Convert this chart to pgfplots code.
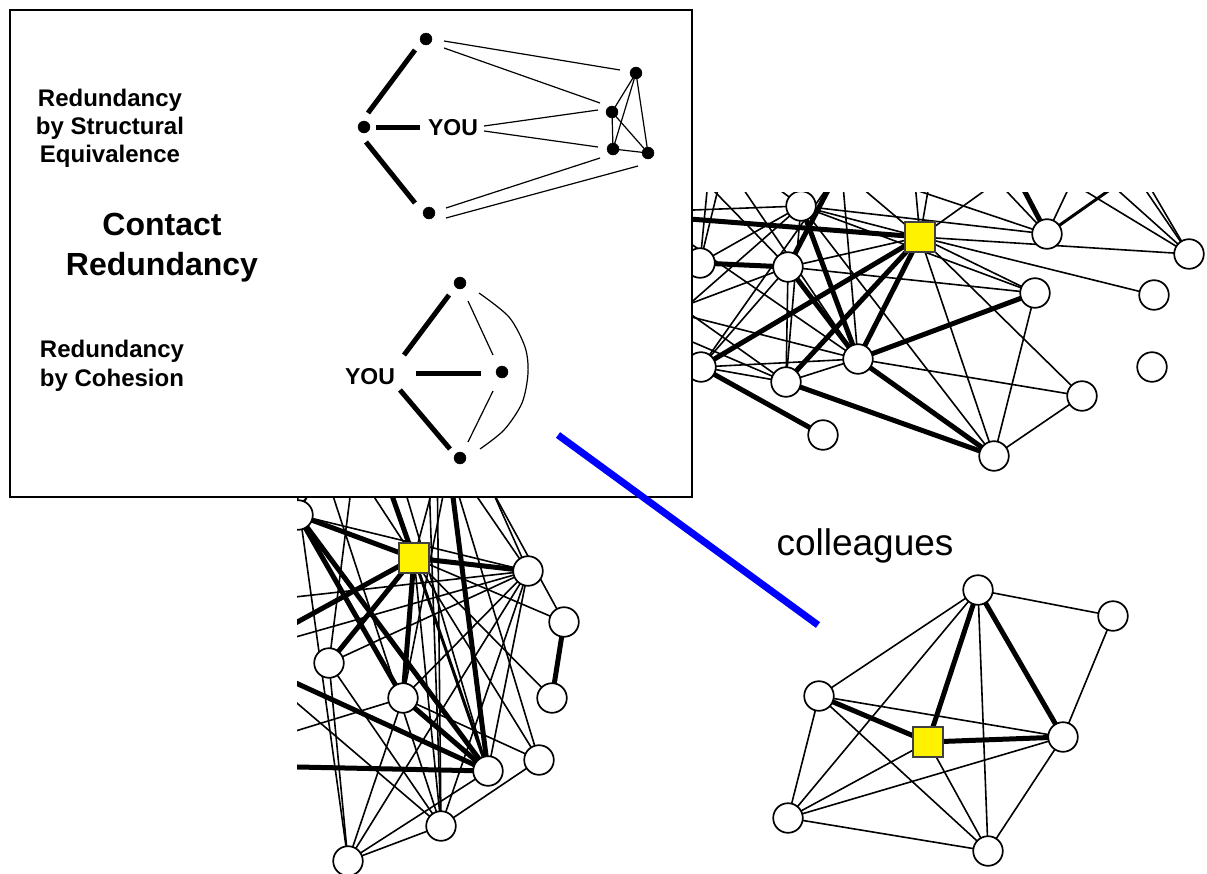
\documentclass[border=0pt]{standalone}
\usepackage{pgfplots}
\pgfplotsset{compat=1.18}
\usepackage{fontspec}
\setmainfont{Liberation Sans}
\newcommand{\E}[3]{\edef\tmpE{\noexpand\addplot[#1] coordinates {(#2) (#3)};}\tmpE}
% top-right network nodes
\def\TRa{801,206}\def\TRy{920,237}\def\TRb{700,263}\def\TRc{788,267}
\def\TRd{701,367}\def\TRe{786,382}\def\TRf{858,359}\def\TRg{823,435}
\def\TRh{1047,234}\def\TRi{1189,254}\def\TRj{1035,293}\def\TRk{1154,295}
\def\TRl{1152,367}\def\TRm{1082,396}\def\TRn{994,456}
% bottom-left network nodes
\def\BLz{298,515}\def\BLy{414,558}\def\BLa{528,571}\def\BLb{564,622}
\def\BLc{552,698}\def\BLd{539,760}\def\BLe{329,663}\def\BLf{403,698}
\def\BLg{488,771}\def\BLh{441,826}\def\BLi{348,861}
% colleagues network nodes
\def\COa{978,590}\def\COb{1113,616}\def\COc{819,696}\def\COy{928,742}
\def\COd{1063,737}\def\COe{788,818}\def\COf{988,851}
\pgfplotsset{
 tn/.style={black, line width=1.6pt},
 tm/.style={black, line width=3pt},
 tk/.style={black, line width=5pt},
 nd/.style={only marks, mark=*, mark size=14.8pt, mark options={fill=white, draw=black, line width=1.7pt}},
 sq/.style={only marks, mark=square*, mark size=15pt, mark options={fill=yellow, draw=black!75, line width=1.2pt}},
 net/.style={hide axis, scale only axis, y dir=reverse, anchor=south west, clip marker paths=true},
}
\begin{document}
\begin{tikzpicture}
\path[use as bounding box] (0,0) rectangle (1207pt,873pt);
% ---------------- top-right network ----------------
\begin{axis}[net, xmin=692, xmax=1207, ymin=193, ymax=490, width=515pt, height=297pt, at={(692pt,383pt)}]
\E{tn}{\TRa}{\TRy}\E{tn}{\TRa}{\TRe}\E{tn}{\TRc}{\TRe}\E{tn}{\TRa}{\TRj}\E{tn}{\TRa}{\TRh}
\E{tn}{640,212}{\TRa}\E{tn}{\TRa}{620,365}\E{tn}{\TRa}{740,160}\E{tn}{\TRb}{\TRa}\E{tn}{\TRa}{\TRn}
\E{tn}{\TRc}{\TRy}\E{tn}{\TRc}{\TRj}\E{tn}{\TRc}{\TRd}\E{tn}{\TRc}{620,330}\E{tn}{\TRc}{645,120}
\E{tn}{\TRd}{\TRe}\E{tn}{\TRd}{\TRf}\E{tn}{\TRd}{854,150}\E{tn}{\TRd}{620,300}
\E{tn}{\TRe}{\TRf}\E{tn}{\TRe}{620,264}\E{tn}{\TRe}{620,311}
\E{tn}{\TRf}{\TRm}\E{tn}{\TRf}{620,195}\E{tn}{\TRf}{620,299}\E{tn}{\TRf}{717,150}\E{tn}{\TRf}{840,150}
\E{tn}{\TRy}{\TRj}\E{tn}{\TRy}{\TRk}\E{tn}{\TRy}{\TRi}\E{tn}{\TRy}{\TRm}\E{tn}{\TRy}{\TRn}
\E{tn}{\TRy}{817,150}\E{tn}{\TRy}{912,150}\E{tn}{\TRy}{935,150}\E{tn}{\TRy}{1040,151}
\E{tn}{880,178}{\TRh}\E{tn}{977,160}{\TRh}\E{tn}{1082,160}{\TRh}
\E{tn}{\TRi}{1034,160}\E{tn}{\TRi}{1084,160}\E{tn}{\TRi}{1125,160}\E{tn}{\TRi}{1134,160}
\E{tn}{\TRb}{712,140}\E{tn}{\TRb}{730,140}
\E{tn}{\TRj}{\TRn}\E{tn}{\TRm}{\TRn}
\E{tm}{1138,170}{\TRh}
\E{tk}{600,212}{\TRy}\E{tk}{\TRb}{\TRc}\E{tk}{\TRc}{\TRf}\E{tk}{\TRa}{\TRf}
\E{tk}{\TRd}{\TRy}\E{tk}{\TRe}{\TRy}\E{tk}{\TRf}{\TRy}\E{tk}{\TRf}{\TRj}
\E{tk}{\TRd}{\TRg}\E{tk}{\TRe}{\TRn}\E{tk}{\TRf}{\TRn}
\E{tk}{850,148}{\TRc}\E{tk}{1003,150}{\TRh}
\addplot[nd] coordinates {(801,206) (700,263) (788,267) (701,367) (786,382) (858,359) (823,435)
 (1047,234) (1189,254) (1035,293) (1154,295) (1152,367) (1082,396) (994,456)};
\addplot[sq] coordinates {(920,237)};
\end{axis}
% ---------------- bottom-left network ----------------
\begin{axis}[net, xmin=297, xmax=610, ymin=497, ymax=873, width=313pt, height=376pt, at={(297pt,0pt)}]
\E{tn}{\BLz}{\BLa}\E{tn}{\BLy}{\BLb}\E{tn}{\BLy}{\BLd}\E{tn}{\BLy}{\BLh}\E{tn}{\BLy}{\BLc}
\E{tn}{\BLz}{250,560}\E{tn}{\BLz}{330,450}
\E{tn}{\BLa}{\BLe}\E{tn}{\BLa}{\BLf}\E{tn}{\BLa}{\BLh}\E{tn}{\BLa}{250,650}\E{tn}{\BLa}{\BLg}
\E{tn}{\BLa}{445,450}\E{tn}{\BLa}{474,450}\E{tn}{\BLa}{250,602}\E{tn}{\BLi}{\BLa}
\E{tn}{\BLb}{470,450}
\E{tn}{\BLe}{356,450}\E{tn}{\BLf}{452,450}\E{tn}{\BLy}{350,460}\E{tn}{\BLy}{443,450}
\E{tn}{\BLd}{\BLf}\E{tn}{\BLd}{\BLh}\E{tn}{\BLd}{445,450}
\E{tn}{\BLg}{\BLi}\E{tn}{\BLg}{393,450}
\E{tn}{\BLh}{\BLe}\E{tn}{\BLh}{250,663}\E{tn}{\BLh}{318,450}\E{tn}{\BLh}{437,450}\E{tn}{\BLh}{428,450}
\E{tn}{\BLi}{\BLe}\E{tn}{\BLi}{291,450}\E{tn}{\BLi}{\BLf}\E{tn}{\BLi}{\BLh}
\E{tn}{250,745}{\BLf}\E{tn}{350,450}{250,560}
\E{tm}{\BLy}{\BLg}
\E{tk}{\BLb}{\BLc}\E{tk}{\BLy}{\BLa}\E{tk}{\BLy}{\BLz}\E{tk}{\BLy}{\BLe}\E{tk}{\BLy}{250,648}
\E{tk}{\BLy}{\BLf}\E{tk}{\BLy}{376,450}\E{tk}{447,450}{\BLg}\E{tk}{\BLz}{\BLf}\E{tk}{\BLz}{\BLg}
\E{tk}{250,662}{\BLg}\E{tk}{250,766}{\BLg}\E{tk}{\BLf}{\BLg}
\addplot[nd] coordinates {(298,515) (528,571) (564,622) (552,698) (539,760) (329,663) (403,698)
 (488,771) (441,826) (348,861)};
\addplot[sq] coordinates {(414,558)};
\end{axis}
% ---------------- main frame ----------------
\begin{axis}[net, xmin=0, xmax=1207, ymin=0, ymax=873, width=1207pt, height=873pt, at={(0pt,0pt)}]
% colleagues network
\E{tn}{\COa}{\COb}\E{tn}{\COa}{\COc}\E{tn}{\COa}{\COe}\E{tn}{\COa}{\COf}\E{tn}{\COb}{\COd}
\E{tn}{\COc}{\COd}\E{tn}{\COc}{\COf}\E{tn}{\COc}{\COe}\E{tn}{\COy}{\COe}\E{tn}{\COy}{\COf}
\E{tn}{\COd}{\COe}\E{tn}{\COd}{\COf}\E{tn}{\COe}{\COf}
\E{tk}{\COa}{\COy}\E{tk}{\COa}{\COd}\E{tk}{\COc}{\COy}\E{tk}{\COy}{\COd}
\addplot[nd] coordinates {(978,590) (1113,616) (819,696) (1063,737) (788,818) (988,851)};
\addplot[sq] coordinates {(928,742)};
% inset box
\addplot[draw=black, fill=white, line width=2pt] coordinates {(10,10) (692,10) (692,497) (10,497)} -- cycle;
% structural equivalence diagram
\addplot[black, line width=5pt] coordinates {(415,50) (368,113)};
\addplot[black, line width=5pt] coordinates {(366,142) (415,203)};
\addplot[black, line width=5pt] coordinates {(376,127) (420,127)};
\E{black, line width=1.2pt}{444,41}{620,70}
\E{black, line width=1.2pt}{444,48}{600,103}
\E{black, line width=1.2pt}{484,126}{598,110}
\E{black, line width=1.2pt}{484,131}{598,147}
\E{black, line width=1.2pt}{446,208}{600,158}
\E{black, line width=1.2pt}{446,218}{638,166}
\E{black, line width=1.2pt}{636,73}{612,112}
\E{black, line width=1.2pt}{636,73}{613,149}
\E{black, line width=1.2pt}{636,73}{648,153}
\E{black, line width=1.2pt}{612,112}{613,149}
\E{black, line width=1.2pt}{612,112}{648,153}
\E{black, line width=1.2pt}{613,149}{648,153}
\addplot[only marks, mark=*, mark size=6pt, black] coordinates {(426,39) (364,127) (429,213) (636,73) (612,112) (613,149) (648,153)};
% cohesion diagram
\addplot[black, line width=5pt] coordinates {(449,295) (404,355)};
\addplot[black, line width=5pt] coordinates {(416,373) (481,373)};
\addplot[black, line width=5pt] coordinates {(400,390) (450,449)};
\E{black, line width=1.2pt}{468,301}{493,355}
\E{black, line width=1.2pt}{493,391}{468,442}
\addplot[black, line width=1.2pt, smooth] coordinates {(479,293) (509,317) (525,347) (528,373) (522,403) (504,430) (480,449)};
\addplot[only marks, mark=*, mark size=6pt, black] coordinates {(460,283) (502,372) (460,458)};
% blue link
\addplot[blue, line width=7pt] coordinates {(558,435) (818,625)};
% texts
\node[font=\bfseries\fontsize{24}{28}\selectfont, align=center] at (axis cs:110,128) {Redundancy\\by Structural\\Equivalence};
\node[font=\bfseries\fontsize{32}{40}\selectfont, align=center] at (axis cs:162,248) {Contact\\Redundancy};
\node[font=\bfseries\fontsize{24}{29}\selectfont, align=center] at (axis cs:112,366) {Redundancy\\by Cohesion};
\node[font=\bfseries\fontsize{23}{26}\selectfont] at (axis cs:453,128) {YOU};
\node[font=\bfseries\fontsize{23}{26}\selectfont] at (axis cs:370,377) {YOU};
\node[font=\fontsize{37}{40}\selectfont] at (axis cs:865,546) {colleagues};
\end{axis}
\end{tikzpicture}
\end{document}
